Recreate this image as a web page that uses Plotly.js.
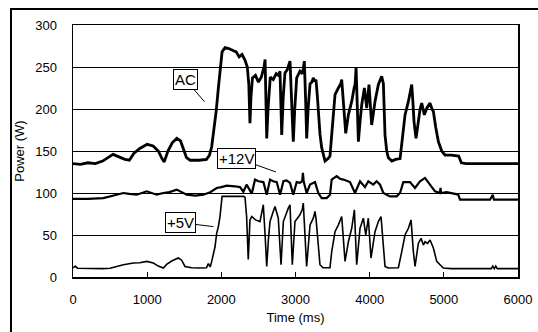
<!DOCTYPE html>
<html>
<head>
<meta charset="utf-8">
<script src="https://cdn.plot.ly/plotly-3.0.1.min.js"></script>
<style>
html,body{margin:0;padding:0;background:#fff;overflow:hidden;}
#wrap{position:relative;width:538px;height:332px;overflow:hidden;}
#chart{position:absolute;left:0;top:0;width:538px;height:332px;}
#frame{position:absolute;left:10px;top:8px;width:700px;height:500px;border:2px solid #000;pointer-events:none;}
</style>
</head>
<body>
<div id="wrap"><div id="chart"></div><div id="frame"></div></div>
<script>
// AC power trace (time ms, watts)
const acTime = [0,100,200,300,400,480,540,620,700,760,820,900,1000,1080,1150,1200,1230,1280,1340,1400,1450,1490,1530,1580,1700,1800,1840,1870,1900,1930,1960,1990,2010,2050,2100,2150,2200,2240,2280,2320,2350,2370,2386,2400,2420,2460,2500,2540,2575,2590,2600,2612,2630,2660,2700,2740,2770,2791,2800,2814,2835,2858,2890,2926,2945,2970,2990,3016,3060,3090,3105,3119,3135,3151,3170,3196,3220,3240,3263,3276,3295,3308,3330,3353,3398,3440,3465,3488,3510,3533,3578,3610,3623,3645,3677,3713,3758,3790,3803,3817,3830,3848,3870,3893,3929,3960,3991,4027,4050,4072,4117,4162,4185,4207,4230,4252,4300,4350,4410,4432,4477,4522,4550,4567,4582,4598,4625,4657,4680,4702,4737,4770,4814,4840,4859,4891,4927,4972,5016,5100,5200,5236,5300,5500,5700,5900,6000];
const acPower = [135,134,136,135,138,143,146,143,140,139,147,153,158,156,150,141,137,150,160,165,162,152,142,139,139,140,145,155,175,197,225,255,268,273,272,270,268,262,265,258,250,230,183,215,237,240,232,238,250,259,215,165,200,238,235,242,240,245,215,169,215,243,247,257,215,161,200,237,245,242,248,257,215,165,200,230,232,237,233,235,215,197,170,154,138,141,144,169,195,217,225,230,235,205,171,193,209,225,229,249,210,161,185,205,225,201,229,181,195,209,229,239,230,169,150,142,138,140,141,161,193,209,222,229,210,185,165,185,200,207,193,201,207,200,197,178,161,150,145,145,144,136,135,135,135,135,135];

// +12V power trace
const v12Time = [0,200,409,550,679,759,859,994,1060,1128,1218,1300,1398,1460,1533,1650,1757,1850,1937,2000,2072,2180,2252,2297,2341,2380,2410,2454,2500,2567,2590,2612,2657,2700,2747,2792,2837,2880,2926,2970,3016,3060,3090,3100,3110,3150,3196,3263,3308,3353,3420,3465,3488,3555,3600,3645,3735,3802,3870,3937,3982,4049,4094,4140,4184,4274,4364,4409,4454,4544,4611,4679,4746,4814,4881,4948,4955,4962,5038,5150,5195,5218,5400,5622,5660,5675,6000];
const v12Power = [93,93,94,97,100,99,98,102,100,98,100,101,104,101,98,97,98,101,106,107,108.7,108,107,101.5,110,104,99,116,114,113,105,98,116,114,113,98,114,115,112,98,113,112,114,124,114,100,110,113,100,94,94,98,116,120,117,116,113,100,114,107,114,110,114,110,100,96,96,100,113,113,106,114,118,110,102,100,106,100,101,99,98,92,92,92,98,92,92];

// +5V power trace
const v5Time = [0,30,60,200,400,500,600,679,814,900,994,1083,1150,1218,1263,1330,1420,1465,1510,1600,1712,1800,1825,1850,1870,1915,1937,1960,1982,2000,2010,2100,2200,2300,2319,2341,2363,2386,2410,2460,2521,2550,2566,2590,2612,2635,2656,2700,2724,2768,2805,2836,2870,2903,2926,2957,2993,3030,3060,3090,3105,3150,3196,3240,3263,3276,3308,3330,3370,3420,3465,3488,3533,3578,3623,3668,3713,3758,3794,3825,3870,3915,3947,3982,4018,4072,4117,4153,4184,4207,4252,4320,4387,4432,4477,4522,4558,4589,4612,4656,4693,4724,4746,4780,4814,4859,4904,4949,4994,5100,5400,5640,5660,5680,5700,5720,6000];
const v5Power = [10.7,13,10.5,10,10,10.5,13,14.6,16.6,17,18.6,16.6,13,10.7,15,19,22.6,20,12.6,11,10.7,11,16,12,18.6,36,52,60,72,90,96,96,96,96,95,72,21,68,72,68,66,78,86,50,12.6,45,66,78,84,70,14.6,66,75,82,86,14.6,66,70,74,80,88,12.6,62,70,78,70,38,14.6,11,10.7,11,30,54,62,72,18.6,42,58,80,14.6,58,70,50,70,22.6,54,66,72,38,12.6,10.7,10.7,11,30,50,58,68,30,12.6,40,46,38,42,40,44,34.5,18.6,14.6,10.7,10,10,10,13,10,13,10,10];

// Axis ticks
const xTicks = [0,1000,2000,3000,4000,5000,6000];
const yTicks = [0,50,100,150,200,250,300];

// Callout labels: text, tip time, tip value
const calloutText = ["AC","+12V","+5V"];
const calloutTipT = [1773,2737,1892];
const calloutTipV = [208.7,125,60];
const calloutOffX = [-19,-39,-33];
const calloutOffY = [-22,-14,-4];

const fontFam = '"Liberation Sans", Arial, sans-serif';

const traces = [
  {x: acTime, y: acPower, mode:'lines', line:{color:'#000', width:2.8}, hoverinfo:'skip'},
  {x: v12Time, y: v12Power, mode:'lines', line:{color:'#000', width:2.2}, hoverinfo:'skip'},
  {x: v5Time, y: v5Power, mode:'lines', line:{color:'#000', width:1.6}, hoverinfo:'skip'}
];

const annotations = calloutText.map((t,i)=>({
  x: calloutTipT[i], y: calloutTipV[i], xref:'x', yref:'y',
  text: t, showarrow:true, arrowhead:0, arrowwidth:1, arrowcolor:'#000',
  ax: calloutOffX[i], ay: calloutOffY[i], standoff:0,
  bordercolor:'#000', borderwidth:1, borderpad:1, bgcolor:'#fff',
  font:{family:fontFam, size:15, color:'#000'}
}));

const layout = {
  width:538, height:332,
  margin:{l:73, r:20, t:25, b:55, pad:0},
  paper_bgcolor:'#fff', plot_bgcolor:'#fff',
  showlegend:false,
  font:{family:fontFam, size:13, color:'#000'},
  xaxis:{
    range:[0,6000], tickvals:xTicks, ticktext:xTicks.map(String),
    showgrid:false, zeroline:false,
    showline:true, linecolor:'#000', linewidth:1.5, mirror:true,
    ticks:'inside', ticklen:5, tickcolor:'#000', tickwidth:1,
    ticklabelstandoff:10,
    tickfont:{family:fontFam, size:13, color:'#000'},
    title:{text:'Time (ms)', font:{family:fontFam, size:13, color:'#000'}, standoff:7}
  },
  yaxis:{
    range:[0,300], tickvals:yTicks, ticktext:yTicks.map(String),
    showgrid:true, gridcolor:'#000', gridwidth:1,
    zeroline:false,
    showline:true, linecolor:'#000', linewidth:1.5, mirror:true,
    ticks:'', ticklabelstandoff:12,
    tickfont:{family:fontFam, size:13, color:'#000'},
    title:{text:'Power (W)', font:{family:fontFam, size:13, color:'#000'}, standoff:7}
  },
  annotations: annotations
};

Plotly.newPlot('chart', traces, layout, {staticPlot:true, displayModeBar:false});
</script>
</body>
</html>
